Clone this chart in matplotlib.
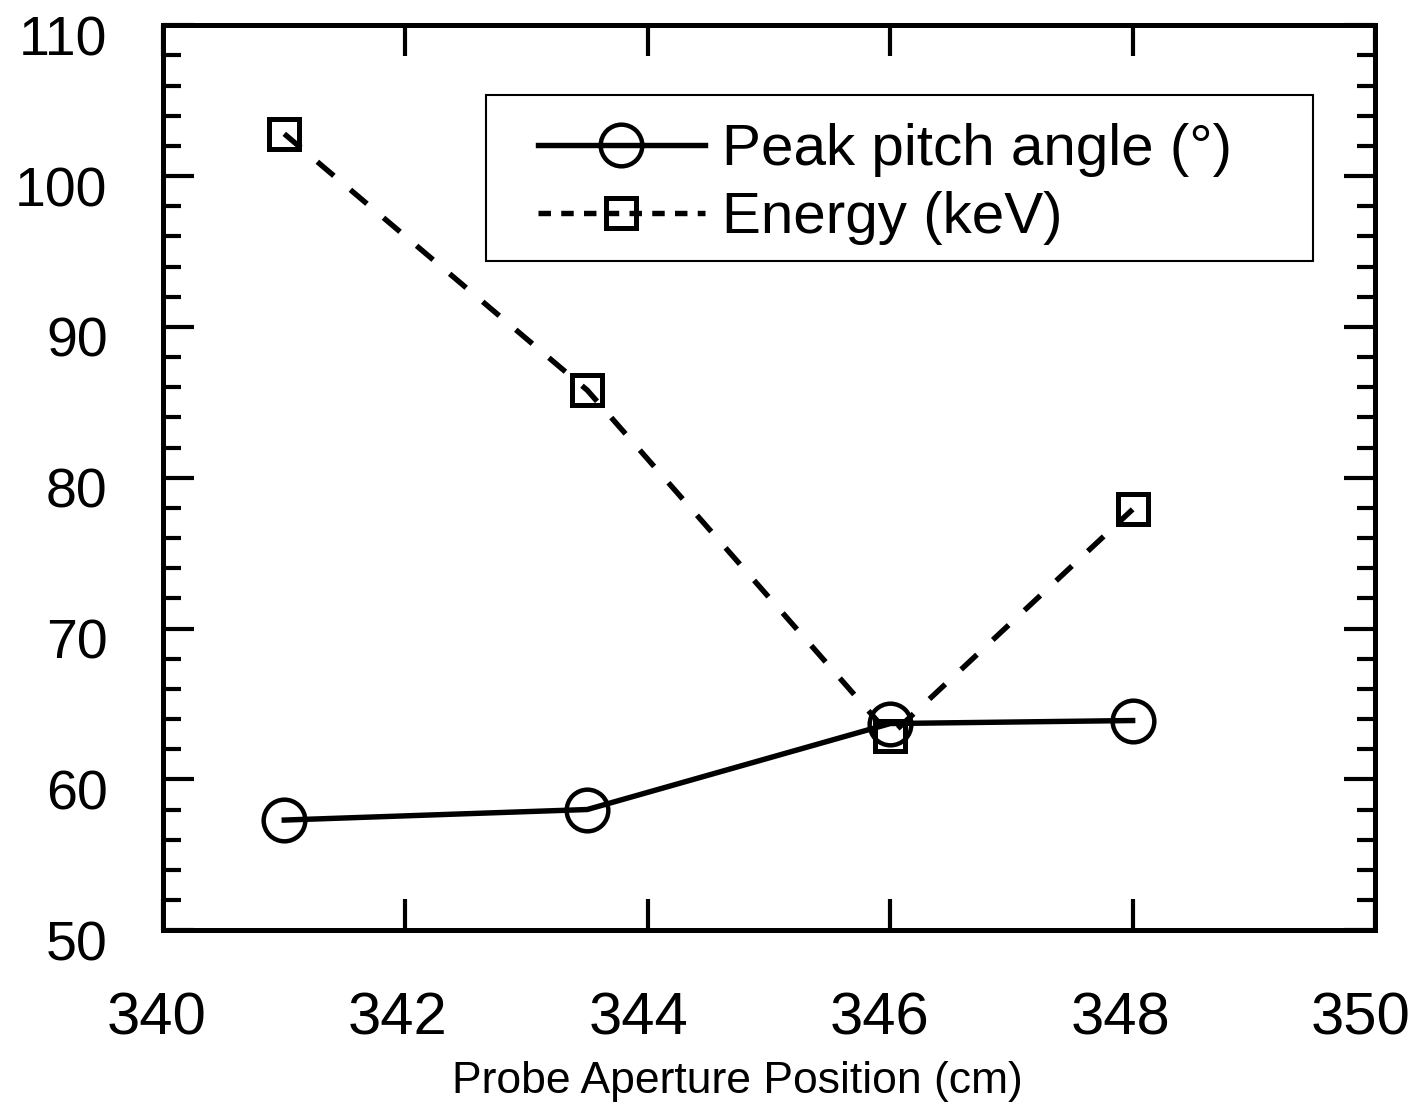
import matplotlib.pyplot as plt
import matplotlib.transforms as mtransforms
from matplotlib.legend_handler import HandlerLine2D
from matplotlib.patches import Rectangle
from matplotlib.ticker import MultipleLocator

plt.rcParams['font.family'] = ['Liberation Sans', 'DejaVu Sans']

positions = [341.0, 343.5, 346.0, 348.0]
pitch_angle = [57.3, 58.0, 63.7, 63.9]
energy = [102.8, 85.8, 62.9, 77.9]

xticks = [340, 342, 344, 346, 348, 350]
yticks = [50, 60, 70, 80, 90, 100, 110]

fig = plt.figure(figsize=(14.18, 11.10), dpi=100)
ax = fig.add_axes([0.115, 0.162, 0.8547, 0.8153])

ax.plot(positions, pitch_angle, color='black', linewidth=3.9, linestyle='-',
        marker='o', markersize=30, markerfacecolor='none', markeredgewidth=3.2,
        label='Peak pitch angle (°)')
energy_line, = ax.plot(positions, energy, color='black', linewidth=3.9,
                       linestyle=(0, (4, 4)), marker='s', markersize=21,
                       markerfacecolor='none', markeredgewidth=3.6,
                       label='Energy (keV)')

ax.set_xlim(340, 350)
ax.set_ylim(50, 110)
ax.set_xticks(xticks)
ax.set_yticks(yticks)
ax.yaxis.set_minor_locator(MultipleLocator(2))

ax.tick_params(axis='both', which='both', direction='in', top=True, right=True,
               width=3.0, colors='black')
ax.tick_params(axis='x', which='major', length=22, pad=44, labelsize=43)
ax.tick_params(axis='y', which='major', length=22, pad=40, labelsize=40)
ax.tick_params(axis='y', which='minor', length=13)
for s in ax.spines.values():
    s.set_linewidth(3.6)

# y labels sit slightly below their ticks
shift = mtransforms.ScaledTranslation(0, -10 / 100, fig.dpi_scale_trans)
for lab in ax.get_yticklabels():
    lab.set_transform(lab.get_transform() + shift)

# x labels drift a little to the left
for val, lab in zip(xticks, ax.get_xticklabels()):
    dx = -(6.5 + 0.75 * (val - 340)) / 100
    lab.set_transform(lab.get_transform() +
                      mtransforms.ScaledTranslation(dx, 0, fig.dpi_scale_trans))

ax.set_xlabel('Probe Aperture Position (cm)', fontsize=32)
ax.xaxis.set_label_coords(0.474, -0.145)


def short_dashes(handle, orig):
    handle.update_from(orig)
    handle.set_linestyle((0, (2.3, 1.9)))


# legend entries without frame, box drawn separately
leg = ax.legend(loc='upper left', bbox_to_anchor=(0.3094, 0.892),
                fontsize=42, frameon=False, handlelength=2.86,
                handletextpad=0.29, borderpad=0, labelspacing=0.24,
                borderaxespad=0,
                handler_map={energy_line: HandlerLine2D(update_func=short_dashes)})
box = Rectangle((0.2665, 0.7392), 0.6823, 0.1834, transform=ax.transAxes,
                fill=False, edgecolor='black', linewidth=1.5, zorder=5)
ax.add_patch(box)

fig.savefig('out.png', dpi=100, facecolor='white')
